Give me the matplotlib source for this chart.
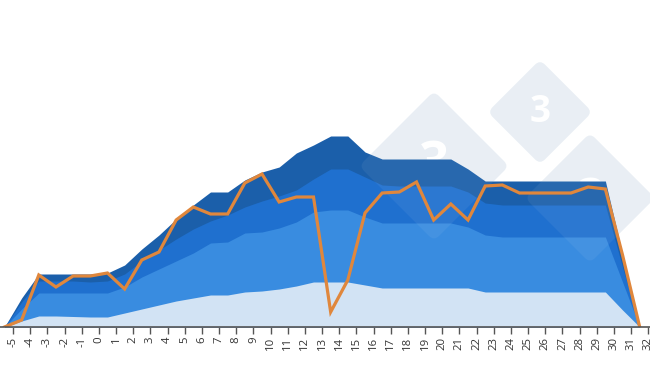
import numpy as np
import matplotlib
matplotlib.use('Agg')
import matplotlib.pyplot as plt
from matplotlib.patches import FancyBboxPatch
import matplotlib.transforms as mtransforms

# week positions (half steps between the day ticks)
weeks = np.arange(-5.5, 32, 1.0)

# upper edge of each band
band_navy = [0, 29, 53, 53, 53, 53, 54, 62, 78, 92, 108, 122, 135, 135, 147, 155, 160, 174, 182,
             191, 191, 175, 168, 168, 168, 168, 168, 158, 146, 146, 146, 146, 146, 146, 146, 146, 73, 0]
band_dark = [0, 25, 46, 46, 46, 45, 46, 53, 66, 77, 88, 98, 106, 112, 120, 126, 131, 137, 148,
             158, 158, 150, 142, 141, 141, 141, 141, 135, 124, 122, 122, 122, 122, 122, 122, 122, 60, 0]
band_mid = [0, 18, 34, 34, 34, 34, 34, 40, 50, 58, 66, 74, 84, 85, 94, 95, 99, 105, 115,
            117, 117, 110, 104, 104, 104, 104, 104, 100, 92, 90, 90, 90, 90, 90, 90, 90, 45, 0]
band_light = [0, 6, 11, 11, 10.5, 10, 10, 14, 18, 22, 26, 29, 32, 32, 35, 36, 38, 41, 45,
              45, 45, 42, 39, 39, 39, 39, 39, 39, 35, 35, 35, 35, 35, 35, 35, 35, 17, 0]

# orange series
current = [0, 7, 52, 40, 51, 51, 54, 38, 67, 75, 107, 120, 113, 113, 144, 153, 125, 130, 130,
           15, 47, 114, 134, 135, 145, 107, 123, 107, 141, 142, 134, 134, 134, 134, 140, 138, 72, 0]

day_ticks = np.arange(-5, 33)

fig = plt.figure(figsize=(6.5, 3.66), dpi=100)
ax = fig.add_axes([0, 39 / 366, 1, 327 / 366])

# faint logo watermark behind the areas (pixel positions, y from top)
logo = [(434, 166, 106), (540, 112, 74), (590, 198, 92)]


def diamond(cx, cy, s, **kw):
    tr = mtransforms.Affine2D().rotate_deg_around(cx, 366 - cy, 45)
    return FancyBboxPatch((cx - s / 2, 366 - cy - s / 2), s, s,
                          boxstyle='round,pad=0,rounding_size=7',
                          ec='none', transform=tr, **kw)


for cx, cy, s in logo:
    ax.add_patch(diamond(cx, cy, s, fc='#e8eef4', zorder=1))
    ax.text(cx / 650, 1 - cy / 366, '3', color='white', fontsize=s * 0.36,
            fontweight='bold', family='Open Sans', ha='center', va='center',
            transform=fig.transFigure, zorder=1.5)

ax.fill_between(weeks, 0, band_navy, color='#1b5faa', lw=0, zorder=2)
ax.fill_between(weeks, 0, band_dark, color='#1f70cf', lw=0, zorder=3)
ax.fill_between(weeks, 0, band_mid, color='#398ce0', lw=0, zorder=4)
ax.fill_between(weeks, 0, band_light, color='#d2e3f4', lw=0, zorder=5)

# the logo shows faintly through the blue
for cx, cy, s in logo:
    ax.add_patch(diamond(cx, cy, s, fc='white', alpha=0.06, zorder=5.5))

ax.plot(weeks, current, color='#e0873c', lw=2.3, zorder=6, solid_joinstyle='miter')

ax.set_xlim(-5.76, 32.1)
ax.set_ylim(0, 327)
ax.patch.set_alpha(0)

for s in ['top', 'right', 'left']:
    ax.spines[s].set_visible(False)
ax.spines['bottom'].set_color('#555555')
ax.spines['bottom'].set_linewidth(1.2)
ax.spines['bottom'].set_zorder(7)
ax.set_yticks([])
ax.set_xticks(day_ticks)
ax.set_xticklabels([str(d) for d in day_ticks], rotation=90, fontsize=8.2,
                   family='Open Sans', color='#333333')
ax.tick_params(axis='x', length=5, width=1, color='#555555', pad=2)

fig.savefig('out.png', dpi=100)
